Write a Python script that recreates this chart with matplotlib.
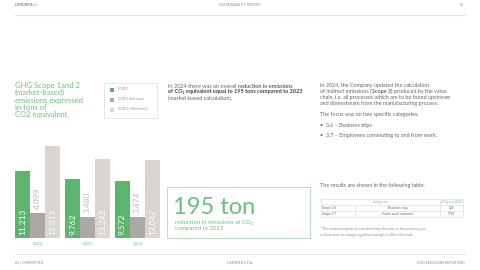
import numpy as np
import matplotlib
matplotlib.use("Agg")
import matplotlib.pyplot as plt
from matplotlib.patches import Rectangle
from matplotlib.lines import Line2D

plt.rcParams['font.family'] = ['Lato', 'DejaVu Sans']

# data
years = ["2022", "2023", "2024"]
scope1 = [11213, 9762, 9572]
scope2 = [4099, 3480, 3474]
scope12 = [15313, 13242, 13047]
series_labels = ["SCOPE 1", "SCOPE 2 Market based", "SCOPE 1+2 Market based"]
table_rows = [["Scope 3.6", "Business trips", "126"],
              ["Scope 3.7", "Home-work commute", "1761"]]

GREEN = "#5cb56d"
TGREEN = "#6cc07c"
DARK = "#aca8a3"
LIGHT = "#d9d6d2"
GRAY = "#8c8c8c"
TXT = "#666666"

W, H = 480, 270
fig = plt.figure(figsize=(4.8, 2.7), dpi=100)
fig.patch.set_facecolor("white")


def fx(px):
    return px / W


def fy(py):
    return 1 - py / H


def fmt(v):
    return f"{v:,}".replace(",", ".")


# header / footer
fig.text(fx(15), fy(5), "LIMONTA |—", fontsize=2.8, color="#555555", va="center")
fig.text(fx(240), fy(5), "SUSTAINABILITY REPORT", fontsize=2.5, color=GRAY, va="center", ha="center")
fig.text(fx(464), fy(5), "63", fontsize=2.5, color=GRAY, va="center", ha="right")
fig.add_artist(Line2D([fx(15), fx(465)], [fy(14.5), fy(14.5)], color="#e4e4e4", lw=0.8))
fig.add_artist(Line2D([fx(15), fx(465)], [fy(254), fy(254)], color="#e4e4e4", lw=0.8))
fig.text(fx(15), fy(263), "66 | COMMITTED", fontsize=2.5, color=GRAY, va="center")
fig.text(fx(240), fy(263), "LIMONTA S.P.A.", fontsize=2.5, color=GRAY, va="center", ha="center")
fig.text(fx(465), fy(263), "GHG EMISSIONS REPORTING", fontsize=2.5, color=GRAY, va="center", ha="right")

# title
fig.text(fx(15), fy(82), "GHG Scope 1and 2\n(market-based)\nemissions expressed\nin tons of\nCO2 equivalent.",
         fontsize=5.5, color=TGREEN, va="top", linespacing=1.05)

# legend box
fig.add_artist(Rectangle((fx(104), fy(118)), fx(157) - fx(104), fy(83) - fy(118),
                         transform=fig.transFigure, fill=False, ec="#e2e2e2", lw=0.6))
for i, (lab, c) in enumerate(zip(series_labels, [GREEN, DARK, LIGHT])):
    yy = 89.5 + i * 10
    fig.add_artist(Rectangle((fx(110), fy(yy + 2)), fx(4), 4 / H, transform=fig.transFigure,
                             fc=c, ec="none"))
    fig.text(fx(118), fy(yy), lab, fontsize=1.8, color=GRAY, va="center")

# bar chart
ax = fig.add_axes([fx(15), fy(238), fx(145), 96 / H])
gap = 50 / 15
x = np.arange(len(years)) * gap
ax.bar(x, scope1, width=1, color=GREEN, align="edge")
ax.bar(x + 1, scope2, width=1, color=DARK, align="edge")
ax.bar(x + 2, scope12, width=1, color=LIGHT, align="edge")
ax.set_xlim(0, x[-1] + 3)
ax.set_ylim(0, 16000)
ax.axis("off")
for i in range(len(years)):
    ax.text(x[i] + 0.5, 500, fmt(scope1[i]), rotation=90, color="white", fontsize=6,
            ha="center", va="bottom")
    ax.text(x[i] + 1.5, scope2[i] + 700, fmt(scope2[i]), rotation=90, color="#bdb9b4", fontsize=6,
            ha="center", va="bottom")
    ax.text(x[i] + 2.5, 500, fmt(scope12[i]), rotation=90, color="white", fontsize=6,
            ha="center", va="bottom")
    ax.text(x[i] + 1.5, -700, years[i], color=TGREEN, fontsize=3.2, ha="center", va="top")

# big highlight box
fig.add_artist(Rectangle((fx(167), fy(238)), fx(310) - fx(167), fy(187) - fy(238),
                         transform=fig.transFigure, fill=False, ec="#a9d9b2", lw=0.6))
fig.text(fx(173), fy(214), "195 ton", fontsize=17, color=TGREEN, fontweight="normal", va="baseline")
fig.text(fx(175), fy(220), "reduction in emissions of CO\u2082\ncompared to 2023", fontsize=4.3,
         color=TGREEN, va="top", linespacing=1.2)

# rich text helper
renderer = fig.canvas.get_renderer()


def rich_line(x0, y0, parts, size, color):
    xp = fx(x0)
    for s, bold in parts:
        t = fig.text(xp, fy(y0), s, fontsize=size, color=color, va="center",
                     fontweight="bold" if bold else "normal")
        bb = t.get_window_extent(renderer=renderer)
        xp += bb.width / fig.bbox.width


# middle paragraph
rich_line(168, 86, [("In 2024 there was an overall ", False), ("reduction in emissions", True)], 4.0, TXT)
rich_line(168, 92, [("of CO\u2082 equivalent equal to 195 tons compared to 2023", True)], 4.0, "#444444")
rich_line(168, 98, [("(market-based calculation).", False)], 4.0, TXT)

# right paragraph
rich_line(320, 85, [("In 2024, the Company updated the calculation", False)], 3.9, TXT)
rich_line(320, 91, [("of indirect emissions (", False), ("Scope 3", True),
                    (") produced by the value", False)], 3.9, TXT)
rich_line(320, 97, [("chain, i.e. all processes which are to be found upstream", False)], 3.9, TXT)
rich_line(320, 103, [("and downstream from the manufacturing process.", False)], 3.9, TXT)
rich_line(320, 114, [("The focus was on two specific categories:", False)], 3.9, TXT)
rich_line(320, 125, [("\u2022  3.6 \u2013 Business trips", False)], 3.9, TXT)
rich_line(320, 135, [("\u2022  3.7 \u2013 Employees commuting to and from work.", False)], 3.9, TXT)
rich_line(320, 186, [("The results are shown in the following table:", False)], 3.9, TXT)

# table
tx = [321, 355, 440, 463]
ty = [199, 205, 211, 217]
lc = "#e0e0e0"
for yy in ty:
    fig.add_artist(Line2D([fx(tx[0]), fx(tx[-1])], [fy(yy), fy(yy)], color=lc, lw=0.5))
for xx in [tx[0], tx[2], tx[3]]:
    fig.add_artist(Line2D([fx(xx), fx(xx)], [fy(ty[0]), fy(ty[-1])], color=lc, lw=0.5))
fig.add_artist(Line2D([fx(tx[1]), fx(tx[1])], [fy(ty[1]), fy(ty[-1])], color=lc, lw=0.5))
fig.text(fx((tx[0] + tx[2]) / 2), fy(202), "Categories", fontsize=2.3, color=TGREEN, ha="center", va="center")
fig.text(fx((tx[2] + tx[3]) / 2), fy(202), "tCO\u2082 eq. 2024", fontsize=2.3, color=TGREEN, ha="center", va="center")
for r, row in enumerate(table_rows):
    yy = (ty[r + 1] + ty[r + 2]) / 2
    fig.text(fx(tx[0] + 1.5), fy(yy), row[0], fontsize=2.3, color=TXT, va="center")
    fig.text(fx((tx[1] + tx[2]) / 2), fy(yy), row[1], fontsize=2.3, color=TXT, va="center", ha="center")
    fig.text(fx((tx[2] + tx[3]) / 2), fy(yy), row[2], fontsize=2.3, color=TXT, va="center", ha="center")

fig.text(fx(320), fy(232), "* The company population considered was the same as the previous year,\n"
         "as there were no changes significant enough to affect the result.",
         fontsize=2.3, color=GRAY, va="center", linespacing=1.4)

fig.savefig("out.png", dpi=100)
